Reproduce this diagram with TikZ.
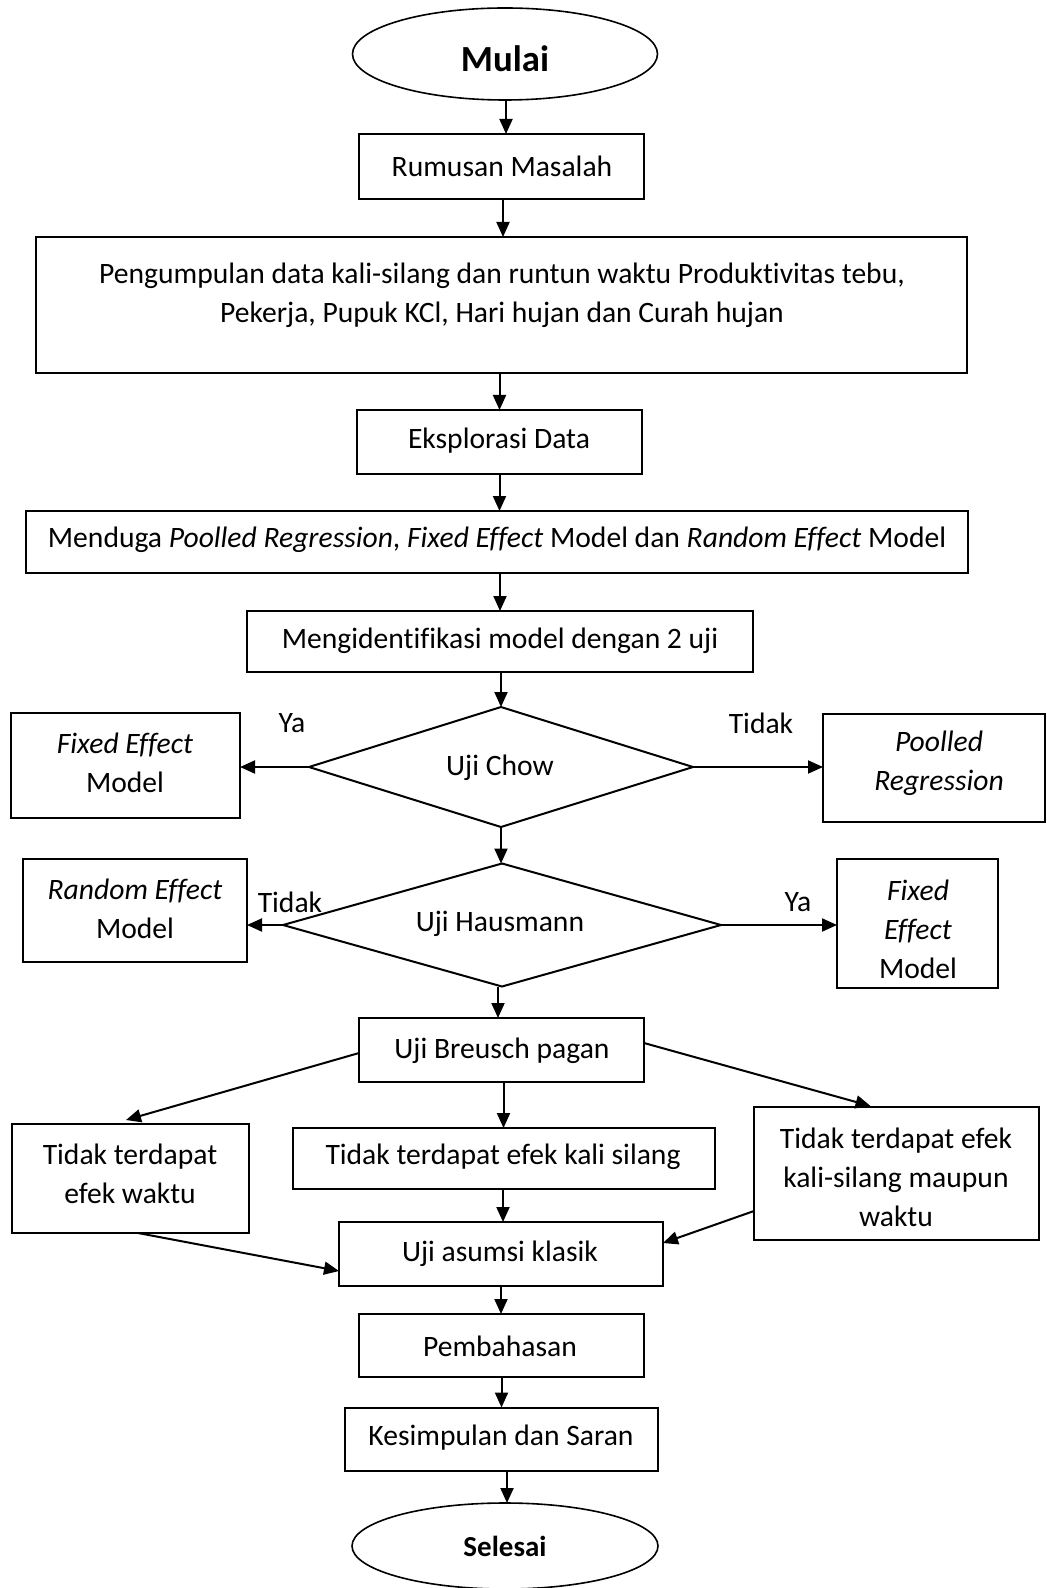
\documentclass[tikz,border=0pt]{standalone}
\usepackage{fontspec}
\setmainfont[Ligatures=NoCommon]{Carlito}
\usetikzlibrary{shapes.geometric,arrows.meta}
\newcommand\bodyfont{\fontsize{14.8}{19.5}\selectfont}
\newcommand\mulaifont{\fontsize{18.4}{22}\selectfont\bfseries}
\newcommand\selfont{\fontsize{14.5}{17}\selectfont\bfseries}
\begin{document}
\begin{tikzpicture}[x=0.5pt,y=-0.5pt,
  box/.style={draw,line width=1pt,inner sep=0pt,outer sep=0pt,rectangle},
  term/.style={draw,line width=0.8pt,inner sep=0pt,outer sep=0pt,ellipse},
  dia/.style={draw,line width=1pt,inner sep=0pt,outer sep=0pt,diamond},
  txt/.style={inner sep=0pt,align=center,font=\bodyfont},
  arr/.style={line width=1pt,-{Triangle[length=7.5pt,width=6.5pt]}}]
\useasboundingbox (0,0) rectangle (1046,1588);
% shapes
\node[term,minimum width=152.5pt,minimum height=46pt] (start) at (505,54) {};
\node[box,minimum width=142.5pt,minimum height=32.5pt] (rm) at (501.5,166.5) {};
\node[box,minimum width=465.5pt,minimum height=68pt] (pc) at (501.5,305) {};
\node[box,minimum width=142.5pt,minimum height=32pt] (ek) at (499.5,442) {};
\node[box,minimum width=471pt,minimum height=31pt] (md) at (497,542) {};
\node[box,minimum width=253pt,minimum height=30.5pt] (mi) at (500,641.5) {};
\node[dia,minimum width=192pt,minimum height=60pt] (chow) at (501,767) {};
\node[box,minimum width=114.5pt,minimum height=52.5pt] (fl) at (125.5,765.5) {};
\node[box,minimum width=111pt,minimum height=54pt] (pr) at (934,768) {};
\node[dia,minimum width=219pt,minimum height=61.5pt] (haus) at (502,925) {};
\node[box,minimum width=112pt,minimum height=51.5pt] (re) at (135,910.5) {};
\node[box,minimum width=80.5pt,minimum height=64.5pt] (fr) at (917.5,923.5) {};
\node[box,minimum width=142.5pt,minimum height=32pt] (bp) at (501.5,1050) {};
\node[box,minimum width=118.5pt,minimum height=54.5pt] (ew) at (130.5,1178.5) {};
\node[box,minimum width=211pt,minimum height=30.5pt] (ks) at (504,1158.5) {};
\node[box,minimum width=142.5pt,minimum height=66.5pt] (rt) at (896.5,1173.5) {};
\node[box,minimum width=162pt,minimum height=32pt] (ua) at (501,1254) {};
\node[box,minimum width=142.5pt,minimum height=31.5pt] (pb) at (501.5,1345.5) {};
\node[box,minimum width=156.5pt,minimum height=31.5pt] (kd) at (501,1439) {};
\node[term,minimum width=153pt,minimum height=43pt] (end) at (505,1546) {};
% texts
\node[txt,font=\mulaifont] (tstart) at (505,59) {Mulai};
\node[txt] (trm) at (502,166) {Rumusan Masalah};
\node[txt] (tpc) at (502,295) {Pengumpulan data kali-silang dan runtun waktu Produktivitas tebu,\\Pekerja, Pupuk KCl, Hari hujan dan Curah hujan};
\node[txt] (tek) at (499,441) {Eksplorasi Data};
\node[txt] (tmd) at (497,540) {Menduga \textit{Poolled Regression}, \textit{Fixed Effect} Model dan \textit{Random Effect} Model};
\node[txt] (tmi) at (500,641) {Mengidentifikasi model dengan 2 uji};
\node[txt] (tchow) at (500,768) {Uji Chow};
\node[txt] (tfl) at (125,763) {\textit{Fixed Effect}\\Model};
\node[txt] (tpr) at (939,763) {\textit{Poolled}\\\textit{Regression}};
\node[txt] (ya1) at (292,723) {Ya};
\node[txt] (tidak1) at (761,723) {Tidak};
\node[txt] (thaus) at (500,924) {Uji Hausmann};
\node[txt] (tre) at (135,909) {\textit{Random Effect}\\Model};
\node[txt] (tidak2) at (290,902) {Tidak};
\node[txt] (ya2) at (798,902) {Ya};
\node[txt] (tfr) at (918,929) {\textit{Fixed}\\\textit{Effect}\\Model};
\node[txt] (tbp) at (502,1051) {Uji Breusch pagan};
\node[txt] (tew) at (130,1173.5) {Tidak terdapat\\efek waktu};
\node[txt] (tks) at (503,1157) {Tidak terdapat efek kali silang};
\node[txt] (trt) at (896,1177) {Tidak terdapat efek\\kali-silang maupun\\waktu};
\node[txt] (tua) at (500,1254) {Uji asumsi klasik};
\node[txt] (tpb) at (500,1346) {Pembahasan};
\node[txt] (tkd) at (501,1438) {Kesimpulan dan Saran};
\node[txt,font=\selfont] (tend) at (505,1546) {Selesai};
% connectors
\draw[arr] ([xshift=0.5pt]start.south) -- ([xshift=0.5pt]start.south |- rm.north);
\draw[arr] ([xshift=0.75pt]rm.south) -- ([xshift=0.75pt]rm.south |- pc.north);
\draw[arr] (ek.north |- pc.south) -- (ek.north);
\draw[arr] (ek.south) -- (ek.south |- md.north);
\draw[arr] (mi.north |- md.south) -- (mi.north);
\draw[arr] (mi.south) -- (mi.south -| chow.north) -- (chow.north);
\draw[arr] (chow.south) -- (chow.south |- haus.north);
\draw[arr] (chow.west) -- (chow.west -| fl.east);
\draw[arr] (chow.east) -- (chow.east -| pr.west);
\draw[arr] (haus.west) -- (haus.west -| re.east);
\draw[arr] (haus.east) -- (haus.east -| fr.west);
\draw[arr] ([xshift=-2pt]haus.south) -- ([xshift=-2pt]haus.south |- bp.north);
\draw[arr] ([xshift=1pt]bp.south) -- ([xshift=1pt]bp.south |- ks.north);
\draw[arr] ([xshift=-0.5pt]ks.south) -- ([xshift=-0.5pt]ks.south |- ua.north);
\draw[arr] (ua.south) -- (ua.south |- pb.north);
\draw[arr] (pb.south) -- (pb.south |- kd.north);
\draw[arr] ([xshift=3pt]kd.south) -- ([xshift=3pt]kd.south |- end.north);
\draw[arr] ([yshift=-1.5pt]bp.west) -- ([xshift=-2.25pt,yshift=2pt]ew.north);
\draw[arr] ([yshift=3.5pt]bp.east) -- ([xshift=-13pt,yshift=0.5pt]rt.north);
\draw[arr] ([xshift=3.75pt]ew.south) -- ([yshift=-8.5pt]ua.west);
\draw[arr] ([yshift=-18.75pt]rt.west) -- ([yshift=5.5pt]ua.east);
\end{tikzpicture}
\end{document}
